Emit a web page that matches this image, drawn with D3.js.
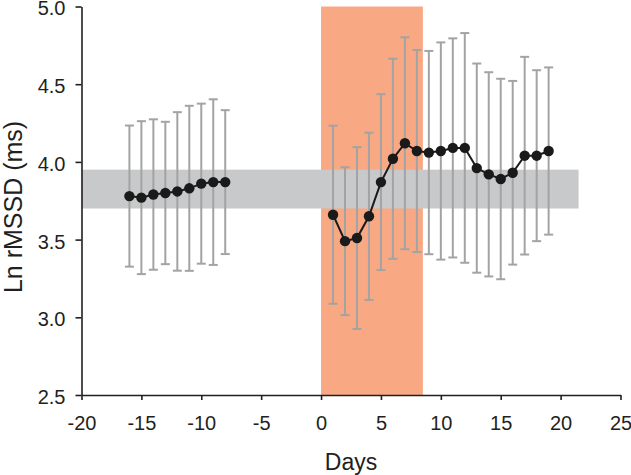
<!DOCTYPE html>
<html>
<head>
<meta charset="utf-8">
<script src="https://cdn.jsdelivr.net/npm/d3@7"></script>
<style>
  html, body { margin: 0; padding: 0; background: #fff; }
  svg { display: block; }
  text { font-family: "Liberation Sans", Arial, Helvetica, sans-serif; fill: #231f20; }
</style>
</head>
<body>
<script>
// ---- data ----
const preDays   = [-16, -15, -14, -13, -12, -11, -10, -9, -8];
const preMean   = [3.78, 3.77, 3.79, 3.80, 3.81, 3.83, 3.86, 3.87, 3.87];
const preSD     = [0.454, 0.492, 0.484, 0.458, 0.51, 0.531, 0.515, 0.533, 0.463];

const postDays  = [1, 2, 3, 4, 5, 6, 7, 8, 9, 10, 11, 12, 13, 14, 15, 16, 17, 18, 19];
const postMean  = [3.66, 3.49, 3.51, 3.65, 3.87, 4.02, 4.12, 4.07, 4.06, 4.07, 4.09, 4.09, 3.96, 3.92, 3.89, 3.93, 4.04, 4.04, 4.07];
const postSD    = [0.573, 0.476, 0.585, 0.538, 0.566, 0.644, 0.682, 0.650, 0.654, 0.699, 0.705, 0.739, 0.673, 0.657, 0.645, 0.591, 0.636, 0.550, 0.538];

const shadedPeriod = [0, 8.5];       // orange band (days)
const baselineBand = [3.70, 3.95];   // gray band (Ln rMSSD)
const baselineBandX = [-20, 21.5];

const xTicks = [-20, -15, -10, -5, 0, 5, 10, 15, 20, 25];
const yTicks = [2.5, 3.0, 3.5, 4.0, 4.5, 5.0];
const xLabel = "Days";
const yLabel = "Ln rMSSD (ms)";

// ---- layout ----
const W = 631, H = 475;
const mLeft = 81.5, mRight = 620.5, mTop = 6.5, mBottom = 395;

const svg = d3.select("body").append("svg").attr("width", W).attr("height", H);

const x = d3.scaleLinear().domain([-20, 25]).range([mLeft, mRight]);
const y = d3.scaleLinear().domain([2.5, 5.0]).range([mBottom, mTop]);

// orange period
svg.append("rect")
  .attr("x", x(shadedPeriod[0])).attr("width", x(shadedPeriod[1]) - x(shadedPeriod[0]))
  .attr("y", y(5.0)).attr("height", y(2.5) - y(5.0))
  .attr("fill", "#F8A882");

// gray baseline band
svg.append("rect")
  .attr("x", x(baselineBandX[0])).attr("width", x(baselineBandX[1]) - x(baselineBandX[0]))
  .attr("y", y(baselineBand[1])).attr("height", y(baselineBand[0]) - y(baselineBand[1]))
  .attr("fill", "#C8C9CA");

const groups = [
  preDays.map((d, i) => ({ d, m: preMean[i], s: preSD[i] })),
  postDays.map((d, i) => ({ d, m: postMean[i], s: postSD[i] }))
];

const capW = 4.5;
groups.forEach(g => {
  const eb = svg.append("g").attr("stroke", "#A3A3A3").attr("stroke-width", 2);
  g.forEach(p => {
    eb.append("line").attr("x1", x(p.d)).attr("x2", x(p.d))
      .attr("y1", y(p.m + p.s)).attr("y2", y(p.m - p.s));
    eb.append("line").attr("x1", x(p.d) - capW).attr("x2", x(p.d) + capW)
      .attr("y1", y(p.m + p.s)).attr("y2", y(p.m + p.s));
    eb.append("line").attr("x1", x(p.d) - capW).attr("x2", x(p.d) + capW)
      .attr("y1", y(p.m - p.s)).attr("y2", y(p.m - p.s));
  });
});

const line = d3.line().x(p => x(p.d)).y(p => y(p.m));
groups.forEach(g => {
  svg.append("path").attr("d", line(g)).attr("fill", "none")
    .attr("stroke", "#1a1a1a").attr("stroke-width", 2);
  svg.append("g").selectAll("circle").data(g).join("circle")
    .attr("cx", p => x(p.d)).attr("cy", p => y(p.m)).attr("r", 5.2)
    .attr("fill", "#1a1a1a");
});

// axes
const xAxis = d3.axisBottom(x).tickValues(xTicks).tickFormat(d => String(d)).tickSize(5).tickSizeOuter(0);
const yAxis = d3.axisLeft(y).tickValues(yTicks).tickFormat(d => d.toFixed(1)).tickSize(6).tickSizeOuter(0);

const gx = svg.append("g").attr("transform", `translate(0,${mBottom})`).call(xAxis);
const gy = svg.append("g").attr("transform", `translate(${mLeft},0)`).call(yAxis);
[gx, gy].forEach(g => {
  g.attr("font-size", 20).attr("font-family", '"Liberation Sans", Arial, sans-serif');
  g.select(".domain").attr("stroke", "#231f20").attr("stroke-width", 1.6);
  g.selectAll(".tick line").attr("stroke", "#231f20").attr("stroke-width", 1.6);
  g.selectAll(".tick text").attr("fill", "#231f20");
});
gx.selectAll(".tick text").attr("dy", null).attr("y", 35);
gy.selectAll(".tick text").attr("x", -16).attr("dy", "0.42em");

svg.append("text").attr("x", x(2.5)).attr("y", 470)
  .attr("text-anchor", "middle").attr("font-size", 23).text(xLabel);
svg.append("text").attr("transform", `translate(22,207) rotate(-90)`)
  .attr("text-anchor", "middle").attr("font-size", 25).text(yLabel);
</script>
</body>
</html>
